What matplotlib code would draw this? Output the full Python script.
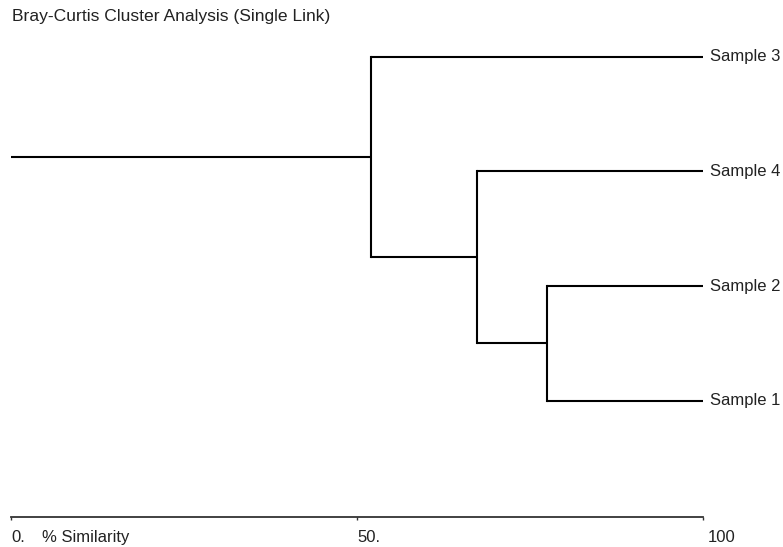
import matplotlib
matplotlib.use('Agg')
import matplotlib.pyplot as plt
import matplotlib.transforms as mtransforms

# leaves, top to bottom
leaf_names = ['Sample 3', 'Sample 4', 'Sample 2', 'Sample 1']

# merges (single link), % similarity at which the two groups join
merge_left = ['Sample 2', 'Sample 4', 'Sample 3']
merge_right = ['Sample 1', 'C1', 'C2']
merge_names = ['C1', 'C2', 'C3']
merge_sim = [77.4, 67.3, 52.0]

tick_values = [0, 50, 100]
tick_labels = ['0.', '50.', '100']

plt.rcParams['font.family'] = ['Liberation Sans', 'DejaVu Sans']
text_color = '#222222'
fs = 12

fig = plt.figure(figsize=(7.83, 5.47), dpi=100)
ax = fig.add_axes([11 / 783, 30 / 547, 692 / 783, 517 / 547])

n = len(leaf_names)
ypos = {name: n - 1 - i for i, name in enumerate(leaf_names)}
xpos = {name: 100.0 for name in leaf_names}

for a, b, name, sim in zip(merge_left, merge_right, merge_names, merge_sim):
    ya, yb = ypos[a], ypos[b]
    ax.plot([xpos[a], sim], [ya, ya], color='black', lw=1.5, solid_capstyle='butt')
    ax.plot([xpos[b], sim], [yb, yb], color='black', lw=1.5, solid_capstyle='butt')
    ax.plot([sim, sim], [ya, yb], color='black', lw=1.5, solid_capstyle='projecting')
    ypos[name] = (ya + yb) / 2
    xpos[name] = sim

# root stem
root = merge_names[-1]
ax.plot([0, xpos[root]], [ypos[root], ypos[root]], color='black', lw=1.5, solid_capstyle='butt')

for name in leaf_names:
    ax.annotate(name, xy=(100, ypos[name]), xytext=(5, 0), textcoords='offset points',
                ha='left', va='center', fontsize=fs, color=text_color)

ax.set_xlim(0, 100)
ax.set_ylim(-1.016, 3.497)
for side in ['top', 'left', 'right']:
    ax.spines[side].set_visible(False)
ax.spines['bottom'].set_linewidth(1.3)
ax.spines['bottom'].set_color('#333333')
ax.set_yticks([])
ax.set_xticks(tick_values)
ax.set_xticklabels(tick_labels, ha='left')
ax.tick_params(axis='x', direction='out', length=2.5, width=1, pad=7,
               labelsize=fs, labelcolor=text_color, color='#333333')

# last label sits a little right of its tick
lbl = ax.get_xticklabels()[-1]
lbl.set_transform(lbl.get_transform() + mtransforms.ScaledTranslation(5 / 100, 0, fig.dpi_scale_trans))

ax.annotate('% Similarity', xy=(4.5, 0), xycoords=('data', 'axes fraction'),
            xytext=(0, -9.5), textcoords='offset points', ha='left', va='top',
            fontsize=fs, color=text_color)

fig.text(12 / 783, 1 - 16 / 547, 'Bray-Curtis Cluster Analysis (Single Link)',
         ha='left', va='center', fontsize=12.6, color=text_color)

fig.savefig('out.png', dpi=100)
